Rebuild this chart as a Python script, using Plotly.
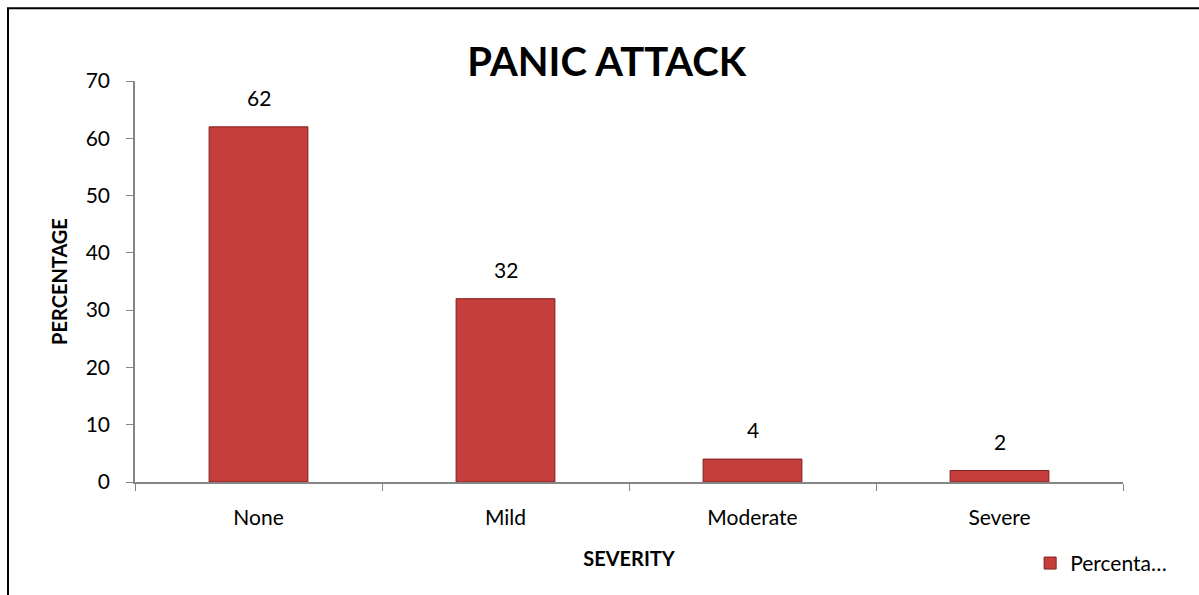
import plotly.graph_objects as go

categories = ["None", "Mild", "Moderate", "Severe"]
percentages = [62, 32, 4, 2]
series_name = "Percenta…"
y_ticks = [0, 10, 20, 30, 40, 50, 60, 70]

FONT = "Lato, Open Sans, sans-serif"
AXIS_COLOR = "#868686"

fig = go.Figure()
fig.add_trace(go.Bar(
    x=categories,
    y=percentages,
    name=series_name,
    width=0.4,
    marker=dict(color="#C63E3C", line=dict(color="#7E1F1E", width=1)),
    showlegend=True,
))

for c, v in zip(categories, percentages):
    fig.add_annotation(x=c, y=v, text=str(v), showarrow=False, yanchor="bottom",
                       yshift=15, font=dict(family=FONT, size=21, color="#000"))

fig.update_layout(
    width=1199, height=595,
    paper_bgcolor="white", plot_bgcolor="white",
    margin=dict(l=135, r=76, t=81, b=112),
    font=dict(family=FONT, size=21, color="#000"),
    title=dict(text="<b>PANIC ATTACK</b>", x=0.506, xanchor="center", y=0.895, yanchor="middle",
               font=dict(family=FONT, size=40, color="#000")),
    bargap=0.6,
    legend=dict(x=0.906, y=-0.2, xanchor="left", yanchor="middle",
                font=dict(family=FONT, size=21, color="#000"), bgcolor="rgba(0,0,0,0)",
                itemwidth=30),
    xaxis=dict(
        showline=True, linecolor=AXIS_COLOR, linewidth=1.5,
        ticks="outside", tickson="boundaries", ticklen=7, tickcolor=AXIS_COLOR,
        ticklabelstandoff=16,
        title=dict(text="<b>SEVERITY</b>", font=dict(family=FONT, size=20), standoff=24),
        showgrid=False, range=[-0.5, 3.5],
    ),
    yaxis=dict(
        range=[0, 70], tickvals=y_ticks, showline=True, linecolor=AXIS_COLOR, linewidth=1.5,
        ticks="outside", ticklen=7, tickcolor=AXIS_COLOR, showgrid=False, zeroline=False,
        ticklabelstandoff=12,
        title=dict(text="<b>PERCENTAGE</b>", font=dict(family=FONT, size=20), standoff=13),
    ),
    shapes=[dict(type="rect", xref="paper", yref="paper",
                 x0=(8 - 135) / 988, x1=1.2, y0=-0.5, y1=1 + (81 - 8) / 402,
                 line=dict(color="#000", width=2), layer="below")],
)

fig.write_html("out.html")
